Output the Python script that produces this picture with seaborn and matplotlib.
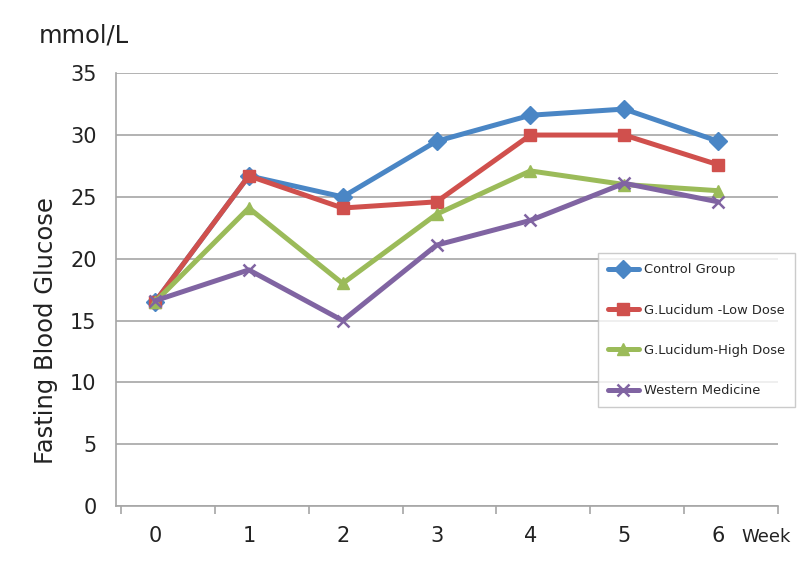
import matplotlib
matplotlib.use("Agg")
import matplotlib.pyplot as plt
import numpy as np
import pandas as pd
import seaborn as sns

weeks = [0, 1, 2, 3, 4, 5, 6]
control = [16.5, 26.7, 25.0, 29.5, 31.6, 32.1, 29.5]
low_dose = [16.5, 26.7, 24.1, 24.6, 30.0, 30.0, 27.6]
high_dose = [16.5, 24.1, 18.0, 23.6, 27.1, 26.0, 25.5]
western = [16.6, 19.1, 15.0, 21.1, 23.1, 26.1, 24.6]

groups = ["Control Group", "G.Lucidum -Low Dose", "G.Lucidum-High Dose", "Western Medicine"]
colors = ["#4A86C5", "#D0504D", "#9BBB59", "#8064A2"]
markers = ["D", "s", "^", "x"]


def build_frame():
    rows = []
    for name, vals in zip(groups, [control, low_dose, high_dose, western]):
        for w, v in zip(weeks, vals):
            rows.append({"week": w, "glucose": v, "group": name})
    return pd.DataFrame(rows)


def main():
    sns.set_theme(style="white")
    plt.rcParams["font.family"] = ["DejaVu Sans"]
    df = build_frame()

    fig = plt.figure(figsize=(8, 5.63), dpi=100)
    ax = fig.add_axes([0.145, 0.101, 0.8275, 0.769])

    ax.set_ylim(0, 35)
    ax.set_xlim(-0.415, 6.628)
    ax.set_yticks(np.arange(0, 36, 5))
    ax.yaxis.grid(True, color="#A6A6A6", linewidth=1.2)
    ax.set_axisbelow(True)

    for name, c, m in zip(groups, colors, markers):
        part = df[df["group"].eq(name)]
        sns.lineplot(
            data=part, x="week", y="glucose", color=c, marker=m,
            linewidth=3.6, markersize=9, markeredgewidth=1.8 if m == "x" else 1.0,
            markeredgecolor=c, sort=False, ax=ax, label=name,
        )

    for s in ["top", "right"]:
        ax.spines[s].set_visible(False)
    for s in ["left", "bottom"]:
        ax.spines[s].set_color("#A6A6A6")
        ax.spines[s].set_linewidth(1.2)

    ax.set_xticks(weeks)
    ax.set_xticklabels([str(w) for w in weeks])
    ax.set_xticks(np.arange(-0.362, 6.7, 1), minor=True)
    ax.tick_params(axis="x", which="major", length=0, pad=14, labelsize=15, colors="#222222")
    ax.tick_params(axis="x", which="minor", length=6, width=1.2, color="#A6A6A6",
                   direction="out", bottom=True)
    ax.tick_params(axis="y", length=0, pad=14, labelsize=15, colors="#222222")

    ax.set_xlabel("")
    ax.set_ylabel("Fasting Blood Glucose", fontsize=17.5, color="#222222")
    ax.yaxis.set_label_coords(-0.088, 0.406)
    fig.text(0.048, 0.937, "mmol/L", fontsize=17.5, color="#222222", va="center")
    fig.text(0.927, 0.046, "Week", fontsize=13, color="#222222", va="center")

    leg = ax.legend(
        loc="upper left", bbox_to_anchor=(0.728, 0.584), fontsize=9.4,
        frameon=True, fancybox=False, edgecolor="#BFBFBF", labelspacing=2.1,
        handlelength=2.4, borderpad=0.75, handletextpad=0.4, borderaxespad=0,
    )
    leg.get_frame().set_linewidth(1.0)

    fig.savefig("out.png", dpi=100)
    plt.close(fig)


if __name__ == "__main__":
    main()
